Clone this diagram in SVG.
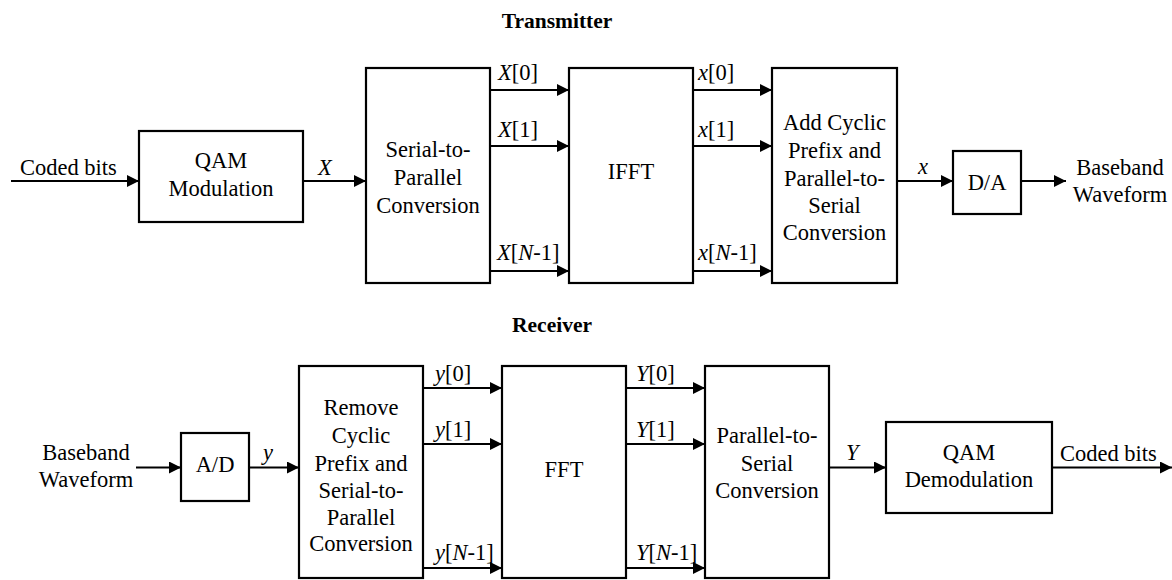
<svg xmlns="http://www.w3.org/2000/svg" width="1172" height="580" viewBox="0 0 1172 580">
<defs>
<marker id="ah" markerUnits="userSpaceOnUse" markerWidth="12" markerHeight="12" refX="12" refY="6" orient="auto">
<path d="M0,0 L12,6 L0,12 z" fill="#000"/>
</marker>
<style>
text{font-size:22.5px;fill:#000}
.c{text-anchor:middle}
.t{font-weight:bold;font-size:21.5px;text-anchor:middle}
.i{font-style:italic}
.box{fill:#fff;stroke:#000;stroke-width:2.2}
.ln{stroke:#000;stroke-width:2.2;fill:none;marker-end:url(#ah)}
</style>
</defs>
<rect width="1172" height="580" fill="#fff"/>
<g font-family="Liberation Serif, serif">
<text class="t" x="557" y="28">Transmitter</text>
<text class="t" x="552" y="332">Receiver</text>

<g id="connectors">
<line class="ln" x1="11" y1="181" x2="139" y2="181"/>
<line class="ln" x1="303" y1="181" x2="366" y2="181"/>
<line class="ln" x1="490" y1="90" x2="569" y2="90"/>
<line class="ln" x1="490" y1="146" x2="569" y2="146"/>
<line class="ln" x1="490" y1="271" x2="569" y2="271"/>
<line class="ln" x1="693" y1="90" x2="772" y2="90"/>
<line class="ln" x1="693" y1="146" x2="772" y2="146"/>
<line class="ln" x1="693" y1="271" x2="772" y2="271"/>
<line class="ln" x1="897" y1="181" x2="953" y2="181"/>
<line class="ln" x1="1021" y1="181" x2="1066" y2="181"/>
<line class="ln" x1="136" y1="467.5" x2="181" y2="467.5"/>
<line class="ln" x1="249" y1="467.5" x2="299" y2="467.5"/>
<line class="ln" x1="423" y1="388" x2="502" y2="388"/>
<line class="ln" x1="423" y1="444" x2="502" y2="444"/>
<line class="ln" x1="423" y1="568" x2="502" y2="568"/>
<line class="ln" x1="626" y1="388" x2="705" y2="388"/>
<line class="ln" x1="626" y1="444" x2="705" y2="444"/>
<line class="ln" x1="626" y1="568" x2="705" y2="568"/>
<line class="ln" x1="829" y1="467.5" x2="886" y2="467.5"/>
<line class="ln" x1="1052" y1="467.5" x2="1172" y2="467.5"/>
<text x="20" y="175">Coded bits</text>
<text class="i" x="318" y="175">X</text>
<text x="498" y="80"><tspan class="i">X</tspan>[0]</text>
<text x="498" y="136.5"><tspan class="i">X</tspan>[1]</text>
<text x="497" y="260"><tspan class="i">X</tspan>[<tspan class="i">N</tspan>-1]</text>
<text x="698" y="80"><tspan class="i">x</tspan>[0]</text>
<text x="698" y="136.5"><tspan class="i">x</tspan>[1]</text>
<text x="698" y="260"><tspan class="i">x</tspan>[<tspan class="i">N</tspan>-1]</text>
<text class="i" x="918" y="174">x</text>
<text class="c" x="1120" y="175">Baseband</text>
<text class="c" x="1120" y="202">Waveform</text>
<text class="c" x="86" y="460">Baseband</text>
<text class="c" x="86" y="487">Waveform</text>
<text class="i" x="263" y="460">y</text>
<text x="435" y="381"><tspan class="i">y</tspan>[0]</text>
<text x="435" y="437"><tspan class="i">y</tspan>[1]</text>
<text x="435" y="560"><tspan class="i">y</tspan>[<tspan class="i">N</tspan>-1]</text>
<text x="636" y="381"><tspan class="i">Y</tspan>[0]</text>
<text x="636" y="437"><tspan class="i">Y</tspan>[1]</text>
<text x="636" y="560"><tspan class="i">Y</tspan>[<tspan class="i">N</tspan>-1]</text>
<text class="i" x="846" y="460">Y</text>
<text x="1060" y="461">Coded bits</text>
</g>

<g id="qam-mod">
<rect class="box" x="139" y="131" width="164" height="91"/>
<text class="c" x="221" y="168">QAM</text>
<text class="c" x="221" y="196">Modulation</text>
</g>
<g id="s2p">
<rect class="box" x="366" y="68" width="124" height="215"/>
<text class="c" x="428" y="157">Serial-to-</text>
<text class="c" x="428" y="185">Parallel</text>
<text class="c" x="428" y="213">Conversion</text>
</g>
<g id="ifft">
<rect class="box" x="569" y="68" width="124" height="215"/>
<text class="c" x="631" y="179">IFFT</text>
</g>
<g id="acp">
<rect class="box" x="772" y="68" width="125" height="215"/>
<text class="c" x="834.5" y="130">Add Cyclic</text>
<text class="c" x="834.5" y="158">Prefix and</text>
<text class="c" x="834.5" y="185.5">Parallel-to-</text>
<text class="c" x="834.5" y="213">Serial</text>
<text class="c" x="834.5" y="240">Conversion</text>
</g>
<g id="da">
<rect class="box" x="953" y="151" width="68" height="63"/>
<text class="c" x="987" y="190">D/A</text>
</g>
<g id="ad">
<rect class="box" x="181" y="433" width="68" height="68"/>
<text class="c" x="215" y="472">A/D</text>
</g>
<g id="rcp">
<rect class="box" x="299" y="366" width="124" height="212"/>
<text class="c" x="361" y="415">Remove</text>
<text class="c" x="361" y="443">Cyclic</text>
<text class="c" x="361" y="471">Prefix and</text>
<text class="c" x="361" y="498">Serial-to-</text>
<text class="c" x="361" y="525">Parallel</text>
<text class="c" x="361" y="551">Conversion</text>
</g>
<g id="fft">
<rect class="box" x="502" y="366" width="124" height="212"/>
<text class="c" x="564" y="477">FFT</text>
</g>
<g id="p2s">
<rect class="box" x="705" y="366" width="124" height="212"/>
<text class="c" x="767" y="443">Parallel-to-</text>
<text class="c" x="767" y="471">Serial</text>
<text class="c" x="767" y="498">Conversion</text>
</g>
<g id="qam-demod">
<rect class="box" x="886" y="422" width="166" height="91"/>
<text class="c" x="969" y="460">QAM</text>
<text class="c" x="969" y="487">Demodulation</text>
</g>
</g>
</svg>
